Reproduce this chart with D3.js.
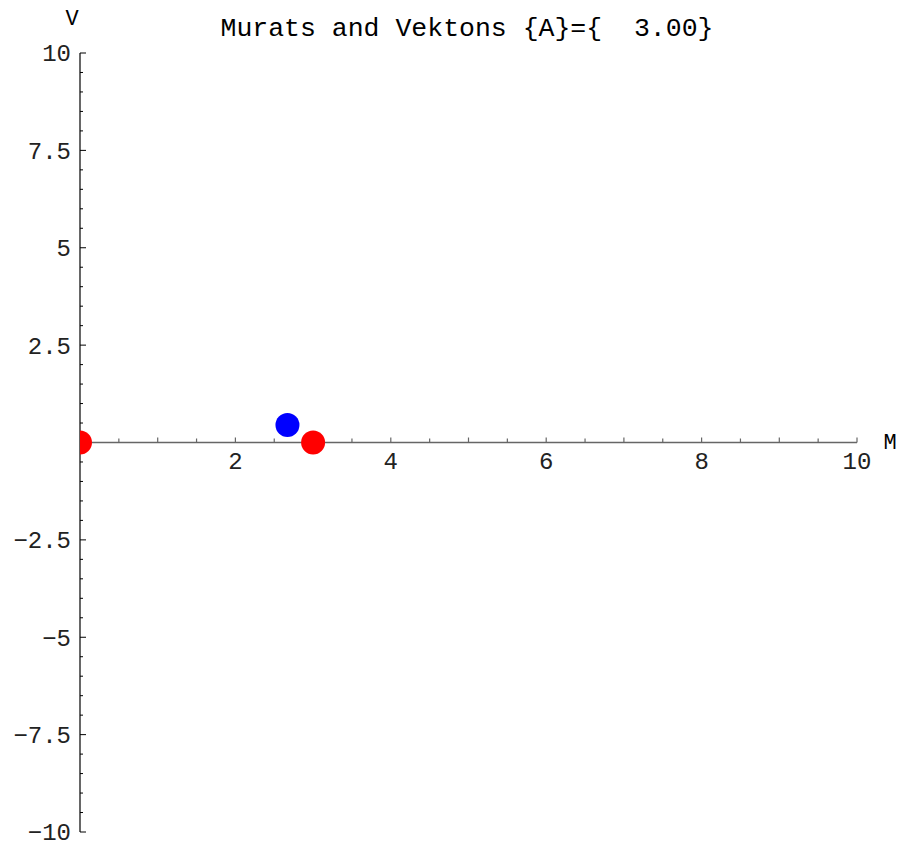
<!DOCTYPE html>
<html>
<head>
<meta charset="utf-8">
<script src="https://cdn.jsdelivr.net/npm/d3@7"></script>
<style>
  body { margin: 0; background: #fff; }
  text { font-family: "Liberation Mono", "Courier New", monospace; }
</style>
</head>
<body>
<div id="chart"></div>
<script>
// chart values
const title = "Murats and Vektons {A}={  3.00}";
const xDomain = [0, 10];
const yDomain = [-10, 10];
const xTickLabels = [2, 4, 6, 8, 10];
const yTickLabels = [10, 7.5, 5, 2.5, -2.5, -5, -7.5, -10];
const murats = [{ m: 0, v: 0 }, { m: 3, v: 0 }];
const vektons = [{ m: 2.67, v: 0.45 }];

const width = 902, height = 850;

const svg = d3.select("#chart")
    .append("svg")
    .attr("width", width)
    .attr("height", height);

const x = d3.scaleLinear().domain(xDomain).range([80, 857]);
const y = d3.scaleLinear().domain(yDomain).range([832, 53]);

// title
svg.append("text")
    .attr("x", 467)
    .attr("y", 36)
    .attr("text-anchor", "middle")
    .attr("font-size", 26.5)
    .style("white-space", "pre")
    .attr("xml:space", "preserve")
    .text(title);

// x axis (gray, ticks pointing up)
const xAxis = svg.append("g").attr("stroke", "#666");
xAxis.append("line")
    .attr("x1", x(0)).attr("x2", x(10))
    .attr("y1", y(0)).attr("y2", y(0))
    .attr("stroke-width", 1.5);
xAxis.selectAll(".xtick")
    .data(d3.range(0.5, 10.01, 0.5))
    .join("line")
    .attr("x1", d => x(d)).attr("x2", d => x(d))
    .attr("y1", y(0))
    .attr("y2", d => y(0) - (d % 1 === 0 ? 5 : 4))
    .attr("stroke-width", 1.2);
svg.selectAll(".xlab")
    .data(xTickLabels)
    .join("text")
    .attr("x", d => x(d))
    .attr("y", y(0) + 26)
    .attr("text-anchor", "middle")
    .attr("font-size", 24)
    .attr("fill", "#222")
    .text(d => d);

// y axis (black, ticks pointing right)
const yAxis = svg.append("g").attr("stroke", "#000");
yAxis.append("line")
    .attr("x1", x(0)).attr("x2", x(0))
    .attr("y1", y(-10)).attr("y2", y(10))
    .attr("stroke-width", 1.2);
yAxis.selectAll(".ytick")
    .data(d3.range(-10, 10.01, 0.5))
    .join("line")
    .attr("x1", x(0))
    .attr("x2", d => x(0) + (d % 2.5 === 0 ? 6 : 3))
    .attr("y1", d => y(d)).attr("y2", d => y(d))
    .attr("stroke-width", 1);
svg.selectAll(".ylab")
    .data(yTickLabels)
    .join("text")
    .attr("x", 71)
    .attr("y", d => y(d))
    .attr("dy", "0.35em")
    .attr("text-anchor", "end")
    .attr("font-size", 24)
    .attr("fill", "#222")
    .text(d => d < 0 ? "\u2212" + Math.abs(d) : d);

// axis names
svg.append("text")
    .attr("x", 72).attr("y", 25)
    .attr("text-anchor", "middle")
    .attr("font-size", 22)
    .text("V");
svg.append("text")
    .attr("x", 890).attr("y", 449)
    .attr("text-anchor", "middle")
    .attr("font-size", 22)
    .text("M");

// dots, clipped to the plot area
svg.append("clipPath").attr("id", "plot")
    .append("rect")
    .attr("x", x(0)).attr("y", y(10))
    .attr("width", x(10) - x(0) + 20)
    .attr("height", y(-10) - y(10));

const dots = svg.append("g").attr("clip-path", "url(#plot)");
dots.selectAll(".murat")
    .data(murats)
    .join("circle")
    .attr("cx", d => x(d.m))
    .attr("cy", d => y(d.v))
    .attr("r", 12)
    .attr("fill", "red");
dots.selectAll(".vekton")
    .data(vektons)
    .join("circle")
    .attr("cx", d => x(d.m))
    .attr("cy", d => y(d.v))
    .attr("r", 12)
    .attr("fill", "blue");
</script>
</body>
</html>
